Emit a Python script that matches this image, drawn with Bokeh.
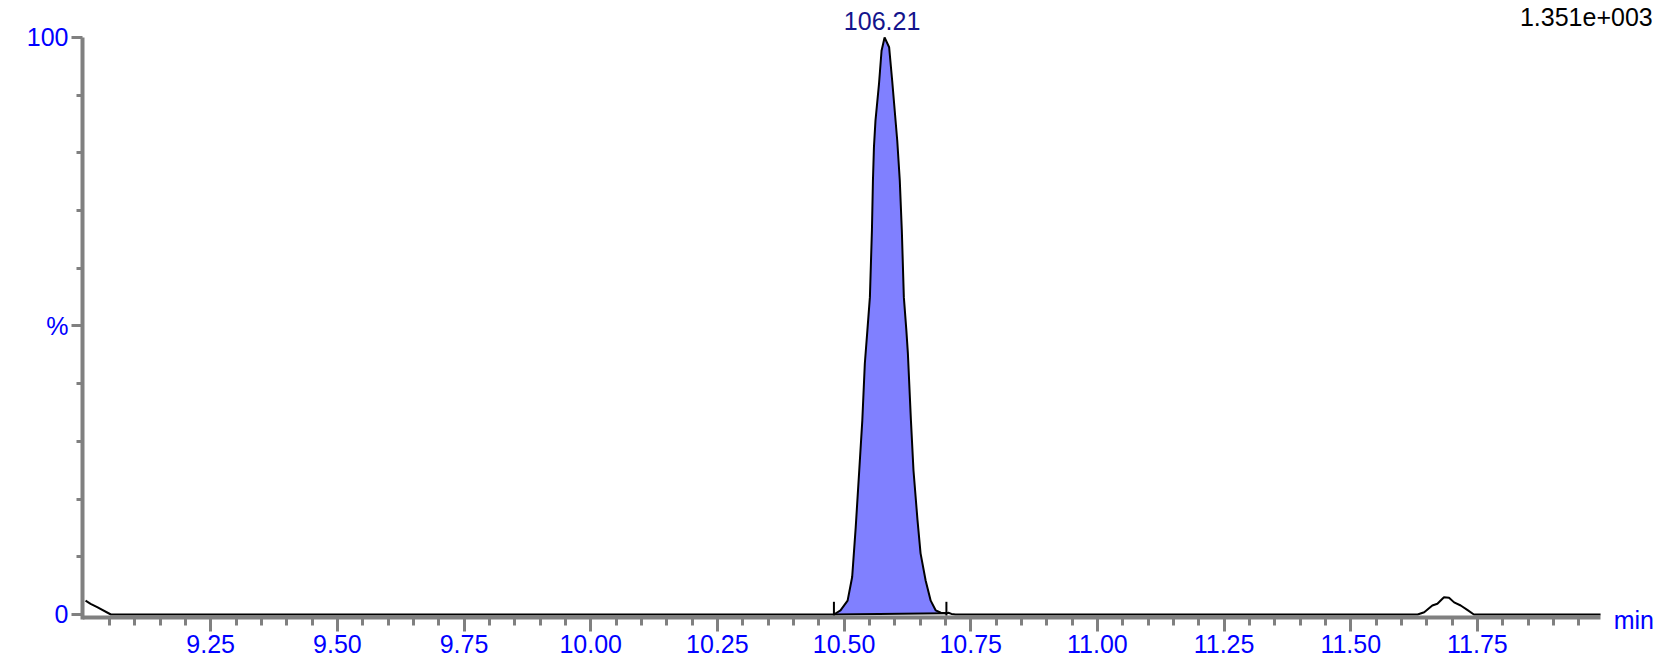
from bokeh.plotting import figure
from bokeh.models import Range1d, FixedTicker, Label
from bokeh.embed import file_html
from bokeh.resources import INLINE
import numpy as np

# ---- data ----
times = [9.003, 9.013, 9.026, 9.053, 10.470, 10.480, 10.493, 10.507, 10.516, 10.523,
         10.530, 10.536, 10.541, 10.546, 10.551, 10.555, 10.557, 10.559, 10.562, 10.569,
         10.574, 10.580, 10.589, 10.595, 10.605, 10.610, 10.614, 10.618, 10.623, 10.626,
         10.632, 10.637, 10.645, 10.651, 10.661, 10.671, 10.681, 10.691, 10.702, 10.706,
         10.712, 10.720, 11.632, 11.645, 11.661, 11.671, 11.684, 11.694, 11.704, 11.717,
         11.730, 11.743, 11.993]
intensity = [2.4, 1.85, 1.27, 0.0, 0.0, 0.0, 0.7, 2.4, 6.5, 15.1,
             25.0, 33.6, 43.5, 49.2, 55.0, 66.6, 75.2, 81.0, 85.6, 92.0,
             97.7, 100.0, 98.3, 92.5, 82.1, 75.2, 66.6, 55.0, 49.2, 45.2,
             33.6, 25.0, 16.3, 10.6, 5.9, 2.4, 0.7, 0.3, 0.2, 0.3,
             0.1, 0.0, 0.0, 0.4, 1.56, 1.85, 3.0, 2.9, 2.1, 1.56,
             0.8, 0.0, 0.0]

peak_start = 10.480
peak_end = 10.702
peak_base = [0.0, 0.2]          # baseline intensity at start / end of integration
peak_apex_time = 10.575
peak_area_label = "106.21"
max_intensity_label = "1.351e+003"
x_unit_label = "min"

x_major = [9.25, 9.5, 9.75, 10.0, 10.25, 10.5, 10.75, 11.0, 11.25, 11.5, 11.75]
x_tick_labels = ["9.25", "9.50", "9.75", "10.00", "10.25", "10.50", "10.75",
                 "11.00", "11.25", "11.50", "11.75"]
x_minor = [round(9.05 + 0.05 * i, 2) for i in range(59)]
y_major = [0, 50, 100]
y_tick_labels = ["0", "%", "100"]
y_minor = [10, 20, 30, 40, 60, 70, 80, 90]

x_start, x_end = 8.997, 11.993
x_axis_y = -0.607          # where the time axis crosses (just below the zero line)
y_end = 100.0

FONT = "Liberation Sans"
FS = "25px"
GRAY = "#808080"
BLUE = "#0000FF"

# frame covers the whole canvas except the left label column, so every text is
# inside it; the axes are limited to the data extent with `bounds`
p = figure(width=1661, height=664,
           x_range=Range1d(x_start, 12.1133), y_range=Range1d(-8.666, 106.41),
           output_backend="svg", toolbar_location=None,
           min_border_left=82, min_border_right=0,
           min_border_top=0, min_border_bottom=0)
p.outline_line_color = None
p.xgrid.visible = False
p.ygrid.visible = False
p.background_fill_color = "white"
p.border_fill_color = "white"

# ---- peak fill ----
t = np.array(times)
y = np.array(intensity)
mask = (t >= peak_start) & (t <= peak_end)
pt = t[mask]
py = y[mask]
base = np.interp(pt, [peak_start, peak_end], peak_base)
p.varea(x=pt, y1=base, y2=py, fill_color="#8080FF")
p.line([peak_start, peak_end], peak_base, line_color="black", line_width=2)

# ---- chromatogram trace ----
p.line(times, intensity, line_color="black", line_width=2)

# ---- integration markers ----
p.segment(x0=[peak_start, peak_end], y0=[-0.2, -0.2],
          x1=[peak_start, peak_end], y1=[2.2, 2.2],
          line_color="black", line_width=2)

# ---- axes ----
xa = p.xaxis[0]
xa.fixed_location = x_axis_y
xa.bounds = (x_start, x_end)
xa.ticker = FixedTicker(ticks=x_major, minor_ticks=x_minor)
xa.major_label_overrides = dict(zip(x_major, x_tick_labels))
xa.axis_line_color = GRAY
xa.axis_line_width = 4
xa.major_tick_line_color = GRAY
xa.major_tick_line_width = 3
xa.minor_tick_line_color = GRAY
xa.minor_tick_line_width = 3
xa.major_tick_in = 0
xa.minor_tick_in = 0
xa.major_tick_out = 14
xa.minor_tick_out = 8
xa.major_label_standoff = 3
xa.major_label_text_color = BLUE
xa.major_label_text_font = FONT
xa.major_label_text_font_size = FS

ya = p.yaxis[0]
ya.bounds = (-0.95, y_end)
ya.ticker = FixedTicker(ticks=y_major, minor_ticks=y_minor)
ya.major_label_overrides = dict(zip(y_major, y_tick_labels))
ya.axis_line_color = GRAY
ya.axis_line_width = 4
ya.major_tick_line_color = GRAY
ya.major_tick_line_width = 3
ya.minor_tick_line_color = GRAY
ya.minor_tick_line_width = 3
ya.major_tick_in = 0
ya.minor_tick_in = 0
ya.major_tick_out = 11
ya.minor_tick_out = 6
ya.major_label_standoff = 3
ya.major_label_text_color = BLUE
ya.major_label_text_font = FONT
ya.major_label_text_font_size = FS

# ---- annotations ----
p.add_layout(Label(x=peak_apex_time, y=102.93, text=peak_area_label,
                   text_align="center", text_baseline="alphabetic",
                   text_color="#14148C", text_font=FONT, text_font_size=FS))
p.add_layout(Label(x=12.096, y=103.6, text=max_intensity_label,
                   text_align="right", text_baseline="alphabetic",
                   text_color="black", text_font=FONT, text_font_size=FS))
p.add_layout(Label(x=12.019, y=-0.95, text=x_unit_label,
                   text_align="left", text_baseline="alphabetic",
                   text_color=BLUE, text_font=FONT, text_font_size=FS))

open("out.html", "w").write(file_html(p, INLINE))
